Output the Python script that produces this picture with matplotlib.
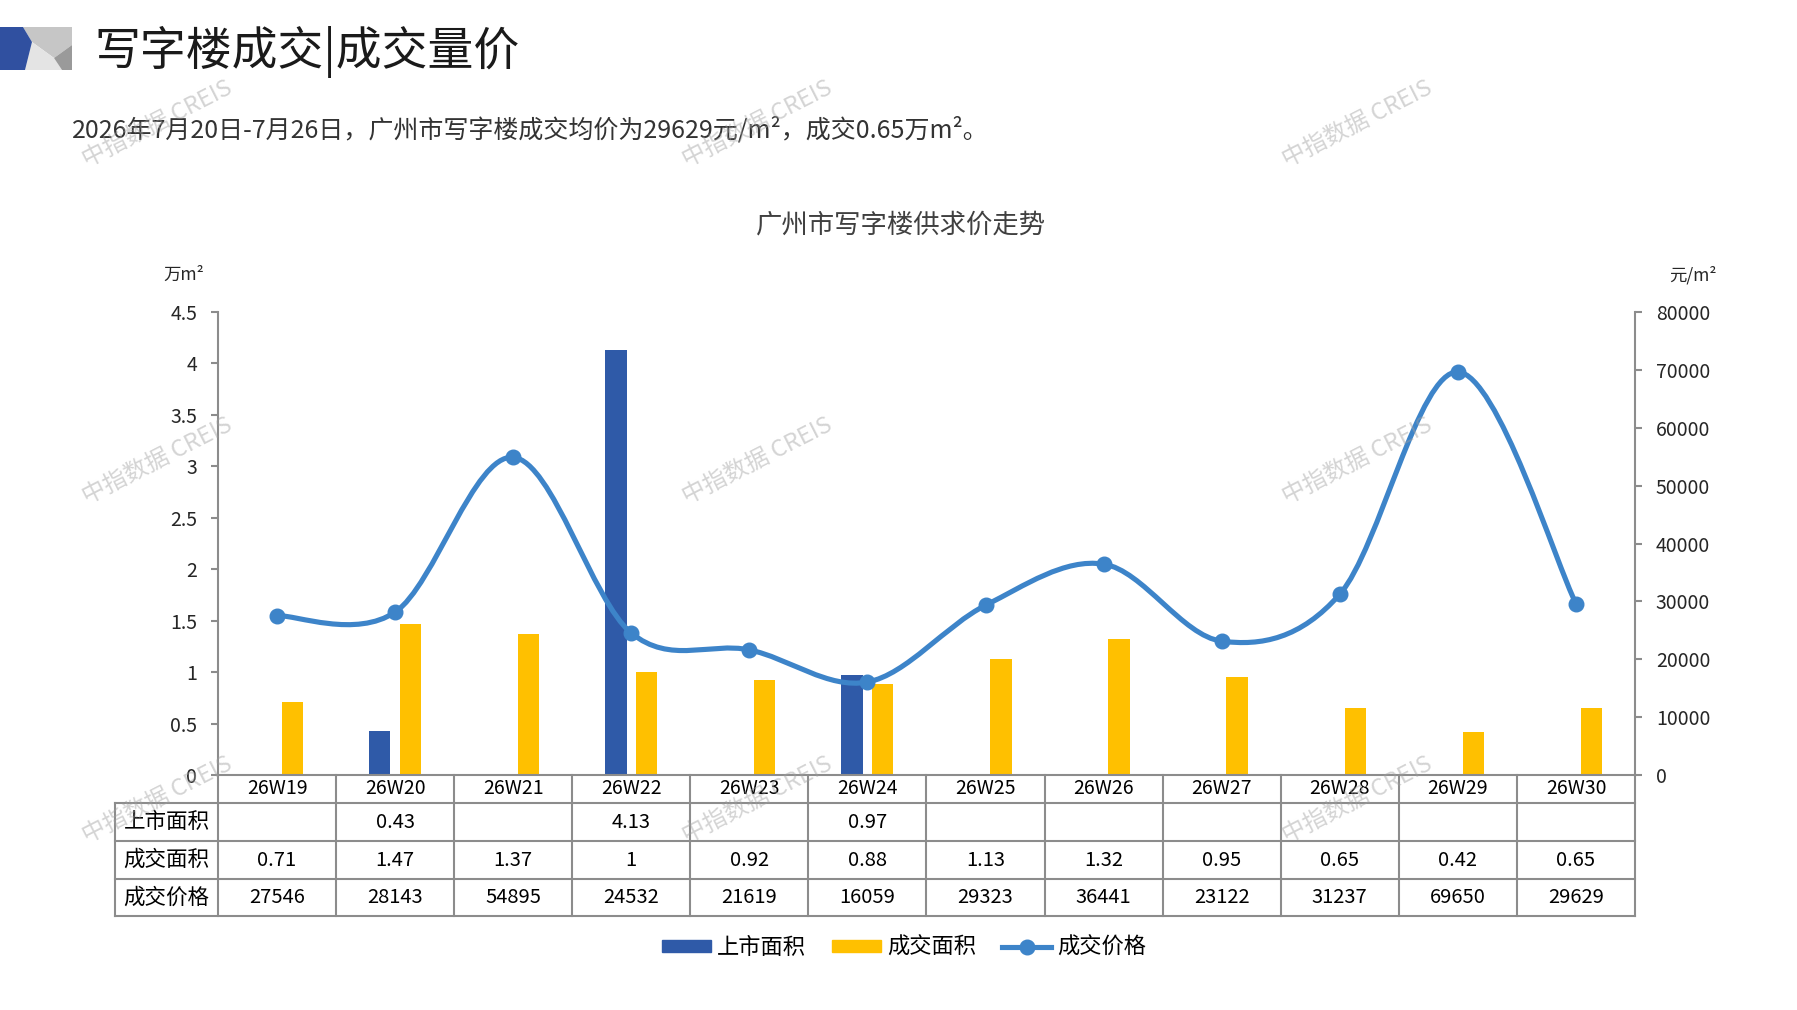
import numpy as np
import matplotlib
matplotlib.use("Agg")
from matplotlib import pyplot as plt
from matplotlib.path import Path
from matplotlib.patches import PathPatch, Polygon, Rectangle
from matplotlib.lines import Line2D

plt.rcParams['font.family'] = ['Noto Sans CJK SC', 'DejaVu Sans']

# data
weeks = ["26W19", "26W20", "26W21", "26W22", "26W23", "26W24",
         "26W25", "26W26", "26W27", "26W28", "26W29", "26W30"]
launch_area = [np.nan, 0.43, np.nan, 4.13, np.nan, 0.97,
               np.nan, np.nan, np.nan, np.nan, np.nan, np.nan]
deal_area = [0.71, 1.47, 1.37, 1, 0.92, 0.88, 1.13, 1.32, 0.95, 0.65, 0.42, 0.65]
deal_price = [27546, 28143, 54895, 24532, 21619, 16059,
              29323, 36441, 23122, 31237, 69650, 29629]
row_names = ["上市面积", "成交面积", "成交价格"]
left_ticks = [0, 0.5, 1, 1.5, 2, 2.5, 3, 3.5, 4, 4.5]
left_ticklabels = ["0", "0.5", "1", "1.5", "2", "2.5", "3", "3.5", "4", "4.5"]
right_ticks = [0, 10000, 20000, 30000, 40000, 50000, 60000, 70000, 80000]

c_blue = "#2f5aa8"
c_yellow = "#ffc000"
c_line = "#3d84c9"
c_grid = "#8c8c8c"
c_text = "#262626"

W, H = 1797, 1010
fig = plt.figure(figsize=(W / 100, H / 100), dpi=100)


def box(l, t, r, b):
    return [l / W, 1 - b / H, (r - l) / W, (b - t) / H]


pl, pr, pt, pb = 218, 1635, 312, 775
rows_y = [775, 803, 841, 879, 916]
tab_l = 115
cat_w = (pr - pl) / 12.0

x = np.arange(len(weeks))

# bars
ax = fig.add_axes(box(pl, pt, pr, pb))
ax.bar(x - 0.13, launch_area, width=0.18, color=c_blue, zorder=2)
ax.bar(x + 0.13, deal_area, width=0.18, color=c_yellow, zorder=2)
ax.set_xlim(-0.5, 11.5)
ax.set_ylim(0, 4.5)
ax.set_yticks(left_ticks)
ax.set_yticklabels(left_ticklabels)
ax.set_xticks([])
ax.spines["top"].set_visible(False)
ax.spines["right"].set_visible(False)
for s in ["left", "bottom"]:
    ax.spines[s].set_color(c_grid)
    ax.spines[s].set_linewidth(1.5)
ax.tick_params(axis="y", length=5, width=1.5, color=c_grid, pad=10,
               labelsize=14, labelcolor=c_text)

# price line, smoothed like the spreadsheet (bezier through the points)
ax2 = ax.twinx()
ax2.set_ylim(0, 80000)
ax2.set_yticks(right_ticks)
ax2.set_yticklabels([str(v) for v in right_ticks])
for s in ["top", "left", "bottom"]:
    ax2.spines[s].set_visible(False)
ax2.spines["right"].set_color(c_grid)
ax2.spines["right"].set_linewidth(1.5)
ax2.tick_params(axis="y", length=5, width=1.5, color=c_grid, pad=10,
                labelsize=14, labelcolor=c_text)

pts = np.column_stack([x, deal_price]).astype(float)
ext = np.vstack([pts[0], pts, pts[-1]])
verts = [tuple(pts[0])]
codes = [Path.MOVETO]
for i in range(len(pts) - 1):
    p0, p1, p2, p3 = ext[i], ext[i + 1], ext[i + 2], ext[i + 3]
    verts += [tuple(p1 + (p2 - p0) / 6.0), tuple(p2 - (p3 - p1) / 6.0), tuple(p2)]
    codes += [Path.CURVE4] * 3
ax2.add_patch(PathPatch(Path(verts, codes), fill=False, edgecolor=c_line,
                        lw=3.7, capstyle="round", zorder=3))
ax2.plot(x, deal_price, "o", color=c_line, ms=10.5, zorder=4)

# data table under the axis
axt = fig.add_axes(box(tab_l, rows_y[0], pr, rows_y[-1]))
x_left = -0.5 - (pl - tab_l) / cat_w
axt.set_xlim(x_left, 11.5)
axt.set_ylim(rows_y[-1], rows_y[0])
axt.axis("off")
for yy in rows_y[1:]:
    axt.plot([x_left, 11.5], [yy, yy], color=c_grid, lw=1.5, clip_on=False)
axt.plot([x_left, x_left], [rows_y[1], rows_y[-1]], color=c_grid, lw=1.5, clip_on=False)
for k in range(13):
    axt.plot([k - 0.5, k - 0.5], [rows_y[0], rows_y[-1]], color=c_grid, lw=1.5, clip_on=False)

launch_text = ["" if np.isnan(v) else "%g" % v for v in launch_area]
table_rows = [launch_text, ["%g" % v for v in deal_area], [str(v) for v in deal_price]]
for i, w in enumerate(weeks):
    axt.text(i, (rows_y[0] + rows_y[1]) / 2, w, ha="center", va="center",
             fontsize=14, color="#000000")
for r, vals in enumerate(table_rows):
    yc = (rows_y[r + 1] + rows_y[r + 2]) / 2
    axt.text((x_left - 0.5) / 2, yc, row_names[r], ha="center", va="center",
             fontsize=15.5, color="#000000")
    for i, v in enumerate(vals):
        axt.text(i, yc, v, ha="center", va="center", fontsize=14.5, color="#000000")

# legend
handles = [Rectangle((0, 0), 1, 1, color=c_blue),
           Rectangle((0, 0), 1, 1, color=c_yellow),
           Line2D([], [], color=c_line, lw=3.7, marker="o", ms=10.5)]
fig.legend(handles, ["上市面积", "成交面积", "成交价格"], loc="center",
           bbox_to_anchor=(904 / W, 1 - 947 / H), ncol=3, frameon=False,
           fontsize=16, handlelength=2.2, handleheight=0.45, columnspacing=1.2,
           handletextpad=0.25)

# overlay for header, titles and watermarks
ov = fig.add_axes([0, 0, 1, 1], zorder=10)
ov.set_xlim(0, W)
ov.set_ylim(H, 0)
ov.axis("off")
ov.patch.set_alpha(0)

ov.add_patch(Polygon([(23, 27), (72, 27), (72, 45), (54, 58), (32, 42)], color="#c6c6c6", lw=0))
ov.add_patch(Polygon([(32, 42), (54, 58), (62, 70), (25, 70)], color="#e4e4e4", lw=0))
ov.add_patch(Polygon([(72, 45), (72, 70), (62, 70), (54, 58)], color="#9a9a9a", lw=0))
ov.add_patch(Polygon([(0, 27), (23, 27), (32, 42), (25, 70), (0, 70)], color="#3050a0", lw=0))

ov.text(94, 52, "写字楼成交|成交量价", fontsize=33, va="center", ha="left", color="#1a1a1a")
ov.text(72, 130, "2026年7月20日-7月26日，广州市写字楼成交均价为29629元/m²，成交0.65万m²。",
        fontsize=18, va="center", ha="left", color="#333333")
ov.text(901, 225, "广州市写字楼供求价走势", fontsize=19, va="center", ha="center",
        color="#404040")
ov.text(184, 275, "万m²", fontsize=12.5, va="center", ha="center", color=c_text)
ov.text(1693, 275, "元/m²", fontsize=12.5, va="center", ha="center", color=c_text)

for wx in [157, 757, 1357]:
    for wy in [124, 461, 800]:
        ov.text(wx, wy, "中指数据 CREIS", fontsize=17, rotation=27, ha="center",
                va="center", color="#a0a0a0", alpha=0.45)

fig.savefig("out.png", dpi=100)
